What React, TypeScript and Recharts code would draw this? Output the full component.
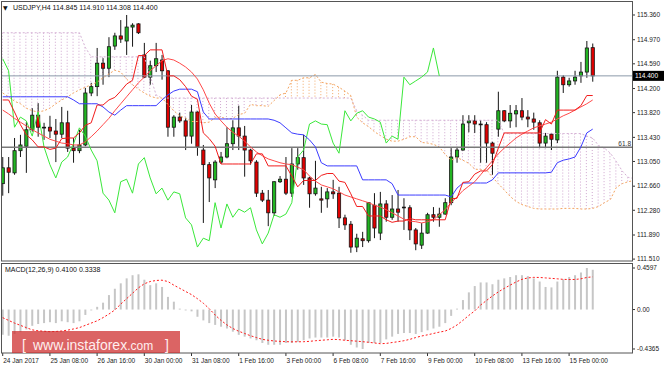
import React from "react";
import { ComposedChart, Bar, Line, XAxis, YAxis, ReferenceLine } from "recharts";

const FONT = "'Liberation Sans', Arial, sans-serif";

// USDJPY H4, 24 Jan 2017 .. 15 Feb 2017 (bar index 0..100)
const open = [
  112.70, 112.95, 112.87, 113.22, 113.29, 113.55, 113.78, 113.59, 113.59, 113.53,
  113.48, 113.66, 113.26, 113.22, 113.31, 114.13, 114.23, 114.60, 114.52, 114.87,
  115.03, 114.95, 115.17, 115.22, 114.73, 114.38, 114.56, 114.65, 114.48, 113.59,
  113.75, 113.69, 113.45, 113.83, 113.23, 113.00, 112.76, 113.04, 113.12, 113.33,
  113.58, 113.45, 113.23, 113.04, 112.55, 112.44, 112.24, 112.73, 112.77, 112.55,
  113.01, 113.11, 112.79, 112.54, 112.46, 112.46, 112.57, 112.55, 112.16, 112.06,
  111.70, 111.83, 111.80, 112.36, 111.92, 112.38, 112.17, 112.30, 112.33, 112.32,
  111.97, 111.73, 111.92, 112.21, 112.17, 112.22, 112.40, 113.12, 113.23, 113.66,
  113.69, 113.64, 113.63, 113.34, 113.56, 113.85, 113.69, 113.80, 113.85, 113.75,
  113.72, 113.66, 113.34, 113.48, 113.39, 114.38, 114.26, 114.32, 114.40, 114.46,
  114.845,
];
const high = [
  113.12, 113.12, 113.42, 113.47, 113.67, 113.89, 113.97, 113.66, 113.77, 113.72,
  113.91, 113.85, 113.42, 113.55, 114.21, 114.29, 114.84, 114.68, 115.01, 115.08,
  115.28, 115.36, 115.23, 115.23, 114.92, 114.64, 114.92, 114.73, 114.49, 113.78,
  113.82, 113.74, 113.94, 113.84, 113.31, 113.04, 113.07, 113.20, 113.59, 113.70,
  113.93, 113.61, 113.25, 113.07, 112.60, 112.60, 112.74, 112.82, 113.12, 113.26,
  113.26, 113.47, 112.81, 113.06, 112.65, 112.63, 112.76, 112.65, 112.21, 112.11,
  111.91, 111.94, 112.41, 112.55, 112.57, 112.44, 112.52, 112.60, 112.47, 112.36,
  112.00, 112.08, 112.24, 112.33, 112.32, 112.47, 113.26, 113.28, 113.78, 113.78,
  113.78, 113.70, 113.67, 113.36, 114.15, 113.86, 113.94, 113.94, 114.05, 113.86,
  113.82, 113.70, 113.50, 113.50, 114.48, 114.41, 114.37, 114.48, 114.62, 114.95,
  114.91,
];
const low = [
  112.51, 112.55, 112.84, 113.12, 112.87, 113.52, 113.44, 113.39, 113.42, 113.04,
  113.42, 113.20, 113.03, 113.18, 113.29, 114.08, 114.08, 114.26, 114.38, 114.81,
  114.92, 114.73, 114.86, 115.06, 114.37, 114.26, 114.46, 114.34, 113.44, 113.44,
  113.66, 113.23, 113.33, 113.14, 112.08, 112.41, 112.63, 113.01, 113.10, 113.23,
  113.23, 112.81, 113.00, 112.49, 112.41, 112.03, 112.19, 112.71, 112.52, 112.49,
  112.92, 112.68, 112.32, 112.51, 112.24, 112.32, 112.46, 112.00, 111.97, 111.61,
  111.62, 111.70, 111.77, 111.84, 111.81, 112.10, 112.13, 112.10, 111.97, 111.81,
  111.65, 111.67, 111.91, 112.10, 112.02, 112.21, 112.36, 113.03, 113.22, 113.51,
  113.50, 113.03, 113.03, 112.84, 113.44, 113.67, 113.58, 113.59, 113.70, 113.59,
  113.55, 113.26, 113.26, 113.23, 113.34, 114.13, 114.23, 114.26, 114.29, 114.37,
  114.308,
];
const close = [
  112.95, 112.88, 113.22, 113.31, 113.55, 113.78, 113.59, 113.58, 113.53, 113.48,
  113.66, 113.26, 113.22, 113.31, 114.13, 114.23, 114.60, 114.52, 114.86, 115.03,
  114.98, 115.17, 115.20, 115.08, 114.38, 114.56, 114.67, 114.48, 113.59, 113.75,
  113.69, 113.45, 113.83, 113.28, 113.00, 112.79, 113.04, 113.12, 113.33, 113.58,
  113.45, 113.23, 113.06, 112.55, 112.44, 112.24, 112.73, 112.77, 112.55, 113.01,
  113.11, 112.79, 112.54, 112.63, 112.44, 112.57, 112.54, 112.16, 112.05, 111.70,
  111.84, 111.80, 112.40, 112.00, 112.38, 112.17, 112.30, 112.25, 112.32, 111.97,
  111.75, 111.92, 112.21, 112.17, 112.22, 112.40, 113.12, 113.23, 113.64, 113.69,
  113.64, 113.63, 113.34, 113.18, 113.85, 113.69, 113.81, 113.85, 113.75, 113.72,
  113.67, 113.34, 113.45, 113.40, 114.38, 114.26, 114.32, 114.38, 114.46, 114.84,
  114.40,
];

// Ichimoku
const tenkan = [
  114.02, 114.02, 113.83, 113.63, 113.47, 113.39, 113.28, 113.28, 113.24, 113.26,
  113.41, 113.42, 113.42, 113.50, 113.62, 113.66, 113.94, 113.94, 114.02, 114.06,
  114.16, 114.27, 114.33, 114.72, 114.72, 114.81, 114.81, 114.81, 114.40, 114.40,
  114.34, 114.23, 114.08, 114.03, 113.50, 113.41, 113.29, 113.01, 113.01, 113.01,
  113.01, 113.01, 113.01, 113.17, 113.17, 112.98, 112.98, 112.98, 112.98, 112.82,
  112.65, 112.75, 112.75, 112.75, 112.83, 112.86, 112.86, 112.74, 112.72, 112.54,
  112.34, 112.34, 112.19, 112.19, 112.19, 112.13, 112.09, 112.11, 112.11, 112.15,
  112.13, 112.13, 112.13, 112.13, 112.13, 112.13, 112.46, 112.47, 112.72, 112.73,
  112.85, 112.90, 112.90, 113.00, 113.26, 113.50, 113.50, 113.50, 113.50, 113.50,
  113.50, 113.50, 113.71, 113.64, 113.86, 113.86, 113.86, 113.86, 113.93, 114.09,
  114.09,
];
const kijun = [
  114.07, 114.07, 114.07, 114.07, 114.07, 114.07, 114.07, 114.07, 114.07, 114.07,
  114.07, 114.07, 114.02, 113.96, 113.96, 113.96, 113.96, 113.91, 113.83, 113.78,
  113.86, 113.93, 113.93, 113.93, 113.93, 113.93, 113.93, 114.02, 114.10, 114.16,
  114.19, 114.19, 114.19, 114.15, 113.83, 113.72, 113.72, 113.72, 113.72, 113.72,
  113.72, 113.72, 113.72, 113.72, 113.72, 113.72, 113.70, 113.66, 113.58, 113.50,
  113.48, 113.47, 113.39, 113.28, 113.03, 112.98, 112.98, 112.98, 112.98, 112.98,
  112.98, 112.76, 112.76, 112.76, 112.76, 112.76, 112.70, 112.52, 112.52, 112.52,
  112.52, 112.52, 112.52, 112.52, 112.52, 112.52, 112.49, 112.63, 112.71, 112.71,
  112.71, 112.71, 112.71, 112.76, 112.87, 112.87, 112.87, 112.87, 112.87, 112.87,
  112.87, 112.87, 112.87, 112.88, 113.03, 113.07, 113.09, 113.12, 113.28, 113.50,
  113.56,
];
const chikou = [
  114.67, 114.48, 113.59, 113.75, 113.69, 113.45, 113.83, 113.28, 113.00, 112.79,
  113.04, 113.12, 113.33, 113.58, 113.45, 113.23, 113.06, 112.55, 112.44, 112.24,
  112.73, 112.77, 112.55, 113.01, 113.11, 112.79, 112.54, 112.63, 112.44, 112.57,
  112.54, 112.16, 112.05, 111.70, 111.84, 111.80, 112.40, 112.00, 112.38, 112.17,
  112.30, 112.25, 112.32, 111.97, 111.75, 111.92, 112.21, 112.17, 112.22, 112.40,
  113.12, 113.23, 113.64, 113.69, 113.64, 113.63, 113.34, 113.18, 113.85, 113.69,
  113.81, 113.85, 113.75, 113.72, 113.67, 113.34, 113.45, 113.40, 114.38, 114.26,
  114.32, 114.38, 114.46, 114.84, 114.40,
];
// senkou spans run 7 bars past the last candle
const spanA = [
  114.13, 114.07, 114.00, 113.96, 113.89, 113.85, 113.83, 113.85, 113.89, 113.96,
  114.02, 114.07, 114.13, 114.18, 114.22, 114.26, 114.30, 114.37, 114.43, 114.49,
  114.46, 114.35, 114.26, 114.19, 114.13, 114.08, 114.05, 114.05, 113.95, 113.85,
  113.77, 113.73, 113.68, 113.68, 113.66, 113.67, 113.74, 113.75, 113.72, 113.73,
  113.79, 113.81, 113.95, 113.93, 113.93, 113.92, 114.01, 114.10, 114.13, 114.33,
  114.33, 114.37, 114.37, 114.42, 114.30, 114.28, 114.27, 114.22, 114.16, 114.09,
  113.75, 113.66, 113.60, 113.52, 113.46, 113.40, 113.37, 113.37, 113.40, 113.44,
  113.44, 113.35, 113.34, 113.32, 113.28, 113.16, 113.07, 113.11, 113.07, 113.02,
  112.93, 112.92, 112.92, 112.80, 112.70, 112.60, 112.50, 112.42, 112.37, 112.34,
  112.31, 112.30, 112.30, 112.30, 112.30, 112.31, 112.31, 112.31, 112.30, 112.30,
  112.31, 112.34, 112.40, 112.45, 112.64, 112.70, 112.73, 112.75,
];
const spanB = [
  115.08, 115.08, 115.08, 115.08, 115.08, 115.08, 115.08, 115.08, 115.08, 115.08,
  115.08, 115.08, 115.08, 115.08, 114.85, 114.70, 114.70, 114.70, 114.70, 114.70,
  114.70, 114.70, 114.70, 114.70, 114.70, 114.40, 114.10, 114.05, 114.05, 114.05,
  114.05, 114.05, 114.05, 114.05, 114.05, 114.05, 114.05, 114.05, 114.05, 114.05,
  114.05, 114.05, 114.05, 114.05, 114.05, 114.05, 114.05, 114.05, 114.05, 114.05,
  114.05, 114.05, 114.05, 114.05, 114.05, 114.05, 114.05, 114.05, 114.05, 114.05,
  113.85, 113.78, 113.70, 113.70, 113.70, 113.70, 113.70, 113.70, 113.70, 113.70,
  113.70, 113.70, 113.70, 113.70, 113.70, 113.70, 113.70, 113.70, 113.70, 113.70,
  113.70, 113.70, 113.70, 113.70, 113.70, 113.49, 113.49, 113.49, 113.49, 113.49,
  113.49, 113.49, 113.49, 113.49, 113.49, 113.49, 113.49, 113.49, 113.49, 113.45,
  113.42, 113.30, 113.26, 113.18, 113.05, 112.90, 112.80, 112.78,
];
// red moving average
const maLine = [
  113.86, 113.80, 113.73, 113.67, 113.61, 113.55, 113.50, 113.45, 113.40, 113.37,
  113.34, 113.33, 113.31, 113.31, 113.36, 113.44, 113.53, 113.63, 113.73, 113.85,
  113.96, 114.07, 114.18, 114.29, 114.38, 114.48, 114.56, 114.64, 114.67, 114.65,
  114.60, 114.54, 114.46, 114.35, 114.18, 113.97, 113.80, 113.69, 113.59, 113.51,
  113.45, 113.37, 113.28, 113.20, 113.14, 113.09, 113.06, 113.03, 113.01, 113.00,
  112.96, 112.92, 112.82, 112.74, 112.68, 112.65, 112.62, 112.57, 112.52, 112.49,
  112.46, 112.43, 112.40, 112.36, 112.33, 112.29, 112.24, 112.19, 112.14, 112.11,
  112.10, 112.08, 112.10, 112.13, 112.21, 112.29, 112.40, 112.49, 112.59, 112.66,
  112.73, 112.84, 112.95, 113.06, 113.17, 113.26, 113.34, 113.42, 113.48, 113.53,
  113.58, 113.61, 113.64, 113.67, 113.72, 113.77, 113.81, 113.86, 113.91, 113.96,
  114.02,
];

// MACD(12,26,9)
const macd = [
  -0.28, -0.29, -0.27, -0.25, -0.22, -0.18, -0.16, -0.15, -0.14, -0.15,
  -0.13, -0.14, -0.15, -0.13, -0.06, -0.01, 0.03, 0.076, 0.16, 0.23,
  0.29, 0.345, 0.38, 0.39, 0.33, 0.27, 0.29, 0.25, 0.14, 0.087,
  0.01, -0.01, -0.02, -0.08, -0.12, -0.15, -0.17, -0.19, -0.21, -0.245,
  -0.28, -0.30, -0.32, -0.34, -0.37, -0.39, -0.39, -0.39, -0.37, -0.37,
  -0.36, -0.34, -0.32, -0.31, -0.31, -0.31, -0.30, -0.31, -0.34, -0.39,
  -0.42, -0.4365, -0.37, -0.37, -0.37, -0.33, -0.30, -0.27, -0.26, -0.26,
  -0.27, -0.25, -0.23, -0.21, -0.19, -0.15, -0.07, 0.01, 0.105, 0.19,
  0.26, 0.30, 0.30, 0.28, 0.33, 0.345, 0.36, 0.38, 0.38, 0.37,
  0.345, 0.31, 0.25, 0.245, 0.31, 0.335, 0.36, 0.38, 0.41, 0.4597,
  0.44,
];
const signal = [
  -0.09, -0.12, -0.15, -0.175, -0.20, -0.225, -0.235, -0.24, -0.245, -0.243,
  -0.237, -0.228, -0.215, -0.20, -0.175, -0.15, -0.125, -0.09, -0.05, -0.005,
  0.06, 0.12, 0.18, 0.24, 0.285, 0.31, 0.322, 0.325, 0.31, 0.27,
  0.235, 0.20, 0.165, 0.12, 0.07, 0.01, -0.06, -0.12, -0.17, -0.21,
  -0.24, -0.265, -0.29, -0.31, -0.33, -0.34, -0.348, -0.352, -0.356, -0.357,
  -0.357, -0.356, -0.352, -0.345, -0.34, -0.335, -0.33, -0.333, -0.34, -0.345,
  -0.35, -0.356, -0.362, -0.37, -0.378, -0.375, -0.365, -0.356, -0.345, -0.33,
  -0.31, -0.293, -0.28, -0.265, -0.25, -0.238, -0.21, -0.171, -0.12, -0.065,
  -0.015, 0.05, 0.10, 0.15, 0.195, 0.234, 0.27, 0.305, 0.334, 0.35,
  0.356, 0.355, 0.35, 0.345, 0.34, 0.334, 0.332, 0.333, 0.34, 0.355,
  0.362,
];

const priceTicks = [115.36, 114.97, 114.59, 114.2, 113.82, 113.43, 113.05, 112.66, 112.28, 111.89, 111.51];
const macdTicks = [0.4597, 0, -0.4365];
const timeTicks = [0, 8, 16, 24, 32, 40, 48, 56, 64, 72, 80, 88, 96];
const timeLabels = [
  "24 Jan 2017", "25 Jan 08:00", "26 Jan 16:00", "30 Jan 00:00", "31 Jan 08:00",
  "1 Feb 16:00", "3 Feb 00:00", "6 Feb 08:00", "7 Feb 16:00", "9 Feb 00:00",
  "10 Feb 08:00", "13 Feb 16:00", "15 Feb 00:00",
];
const BID = 114.4;
const FIB618 = 113.275;

const X_DOMAIN = [-0.12, 106.66];
const GREEN = "#22b422";
const RED = "#e00000";

const rows = spanA.map((a, i) => {
  const b = spanB[i];
  return {
    i,
    o: open[i] ?? null,
    h: high[i] ?? null,
    l: low[i] ?? null,
    c: close[i] ?? null,
    tenkan: tenkan[i] ?? null,
    kijun: kijun[i] ?? null,
    ma: maLine[i] ?? null,
    chikou: chikou[i] ?? null,
    spanA: a,
    spanB: b,
    cloudB: [a, Math.max(a, b)],
    cloudA: [b, Math.max(a, b)],
    macd: macd[i] ?? null,
    signal: signal[i] ?? null,
  };
});

function Candle(props: any) {
  const { x, y, width, height, payload } = props;
  if (!payload || payload.o == null || !isFinite(y) || !isFinite(height)) return <g />;
  const top = Math.min(y, y + height);
  const span = Math.abs(height);
  const cx = x + width / 2;
  const k = payload.h > payload.l ? span / (payload.h - payload.l) : 0;
  const yo = top + (payload.h - payload.o) * k;
  const yc = top + (payload.h - payload.c) * k;
  const up = payload.c >= payload.o;
  const bt = Math.min(yo, yc);
  const bh = Math.max(Math.abs(yc - yo), 0.8);
  return (
    <g>
      <line x1={cx} x2={cx} y1={top} y2={top + span} stroke="#151515" strokeWidth={1} />
      <rect x={cx - 1.6} y={bt} width={3.2} height={bh} fill={up ? GREEN : RED} stroke="#151515" strokeWidth={0.8} />
    </g>
  );
}

const hatch = (color: string) => (props: any) => {
  const { x, y, width, height } = props;
  if (!isFinite(y) || !isFinite(height) || Math.abs(height) < 0.6) return <g />;
  const top = Math.min(y, y + height);
  const cx = x + width / 2;
  return (
    <line x1={cx} x2={cx} y1={top} y2={top + Math.abs(height)} stroke={color} strokeWidth={1} strokeDasharray="1 2" />
  );
};

function BidTag(props: any) {
  const vb = props.viewBox || {};
  const right = (vb.x || 0) + (vb.width || 0);
  return (
    <g>
      <rect x={right + 1} y={vb.y - 5} width={31} height={10} fill="#000" />
      <text x={right + 3} y={vb.y + 2.4} fontSize={6.5} fill="#fff" fontFamily={FONT}>
        114.400
      </text>
    </g>
  );
}

function TimeTick(props: any) {
  const { x, y, payload } = props;
  const idx = timeTicks.indexOf(payload.value);
  return (
    <text x={x + 0.5} y={y} dy={4.5} fontSize={6.5} fill="#222" fontFamily={FONT} textAnchor="start">
      {timeLabels[idx]}
    </text>
  );
}

const axisTick = { fontSize: 6.5, fill: "#222", fontFamily: FONT };

export default function App() {
  return (
    <div style={{ position: "absolute", left: 0, top: 0, width: 664, height: 369, background: "#fff", overflow: "hidden" }}>
      <div style={{ position: "absolute", left: 0, top: 0 }}>
        <ComposedChart width={664} height={262} data={rows} margin={{ top: 2, right: 0, bottom: 1, left: 2 }}>
          <XAxis dataKey="i" type="number" domain={X_DOMAIN} allowDataOverflow hide />
          <XAxis xAxisId="hp" dataKey="i" type="number" domain={X_DOMAIN} allowDataOverflow hide />
          <XAxis xAxisId="ho" dataKey="i" type="number" domain={X_DOMAIN} allowDataOverflow hide />
          <YAxis
            orientation="right"
            width={32}
            domain={[111.48, 115.565]}
            allowDataOverflow
            ticks={priceTicks}
            interval={0}
            tickFormatter={(v: number) => v.toFixed(3)}
            tick={axisTick}
            tickSize={3}
            tickLine={{ stroke: "#333" }}
            axisLine={false}
          />
          <Bar xAxisId="hp" dataKey="cloudB" barSize={1} shape={hatch("#cfa6cf")} isAnimationActive={false} />
          <Bar xAxisId="ho" dataKey="cloudA" barSize={1} shape={hatch("#f2a766")} isAnimationActive={false} />
          <Line dataKey="spanB" stroke="#d4b0d4" strokeWidth={1} strokeDasharray="2 2" dot={false} activeDot={false} isAnimationActive={false} />
          <Line dataKey="spanA" stroke="#f4a460" strokeWidth={1} strokeDasharray="2 2" dot={false} activeDot={false} isAnimationActive={false} />
          <ReferenceLine y={FIB618} stroke="#7a7a7a" strokeWidth={1.5} label={{ value: "61.8", position: "insideBottomRight", offset: 1, fontSize: 6.5, fill: "#333", fontFamily: FONT }} />
          <ReferenceLine y={BID} stroke="#8b9aaa" strokeWidth={1} label={<BidTag />} />
          <Bar
            dataKey={(d: any) => (d.o == null ? null : [d.l, d.h])}
            barSize={4}
            shape={Candle}
            isAnimationActive={false}
          />
          <Line dataKey="chikou" stroke="#3be83b" strokeWidth={1} dot={false} activeDot={false} isAnimationActive={false} />
          <Line dataKey="kijun" stroke="#3c3cff" strokeWidth={1} dot={false} activeDot={false} isAnimationActive={false} />
          <Line dataKey="ma" stroke="#ff4a4a" strokeWidth={1} dot={false} activeDot={false} isAnimationActive={false} />
          <Line dataKey="tenkan" stroke="#f21c1c" strokeWidth={1} dot={false} activeDot={false} isAnimationActive={false} />
        </ComposedChart>
      </div>
      <div style={{ position: "absolute", left: 0, top: 262 }}>
        <ComposedChart width={664} height={107} data={rows} margin={{ top: 2, right: 0, bottom: 0, left: 2 }}>
          <XAxis
            dataKey="i"
            type="number"
            domain={X_DOMAIN}
            allowDataOverflow
            ticks={timeTicks}
            interval={0}
            height={16}
            tick={<TimeTick />}
            tickSize={3}
            tickLine={{ stroke: "#333" }}
            axisLine={false}
          />
          <YAxis
            orientation="right"
            width={32}
            domain={[-0.481, 0.504]}
            allowDataOverflow
            ticks={macdTicks}
            interval={0}
            tickFormatter={(v: number) => (v === 0 ? "0.00" : v.toFixed(4))}
            tick={axisTick}
            tickSize={3}
            tickLine={{ stroke: "#333" }}
            axisLine={false}
          />
          <Bar dataKey="macd" barSize={2} fill="#c6c6c6" isAnimationActive={false} />
          <Line dataKey="signal" stroke="#ff1a1a" strokeWidth={1} strokeDasharray="2 2" dot={false} activeDot={false} isAnimationActive={false} />
        </ComposedChart>
      </div>
      <svg width={664} height={369} style={{ position: "absolute", left: 0, top: 0, pointerEvents: "none" }}>
        <rect x={1.5} y={1.5} width={631} height={259.5} fill="none" stroke="#555" strokeWidth={1} />
        <rect x={1.5} y={263.5} width={631} height={89.5} fill="none" stroke="#555" strokeWidth={1} />
        <text x={3} y={9.5} fontSize={6} fill="#111" fontFamily="'DejaVu Sans', sans-serif">▼</text>
        <text x={13} y={10} fontSize={7} fill="#111" fontFamily={FONT}>
          USDJPY,H4 114.845 114.910 114.308 114.400
        </text>
        <text x={5} y={271.5} fontSize={7} fill="#111" fontFamily={FONT}>
          MACD(12,26,9) 0.4100 0.3338
        </text>
        <rect x={12} y={331} width={168} height={22} fill="rgba(205,40,40,0.72)" />
        <text x={22} y={350} fontSize={14} fill="#ffeeee" fontFamily={FONT}>[</text>
        <text x={33} y={350} fontSize={14} fill="#ffeeee" fontFamily={FONT}>
          www.instaforex<tspan fontSize={12}>.com</tspan>
        </text>
        <text x={165} y={350} fontSize={14} fill="#ffeeee" fontFamily={FONT}>]</text>
      </svg>
    </div>
  );
}
